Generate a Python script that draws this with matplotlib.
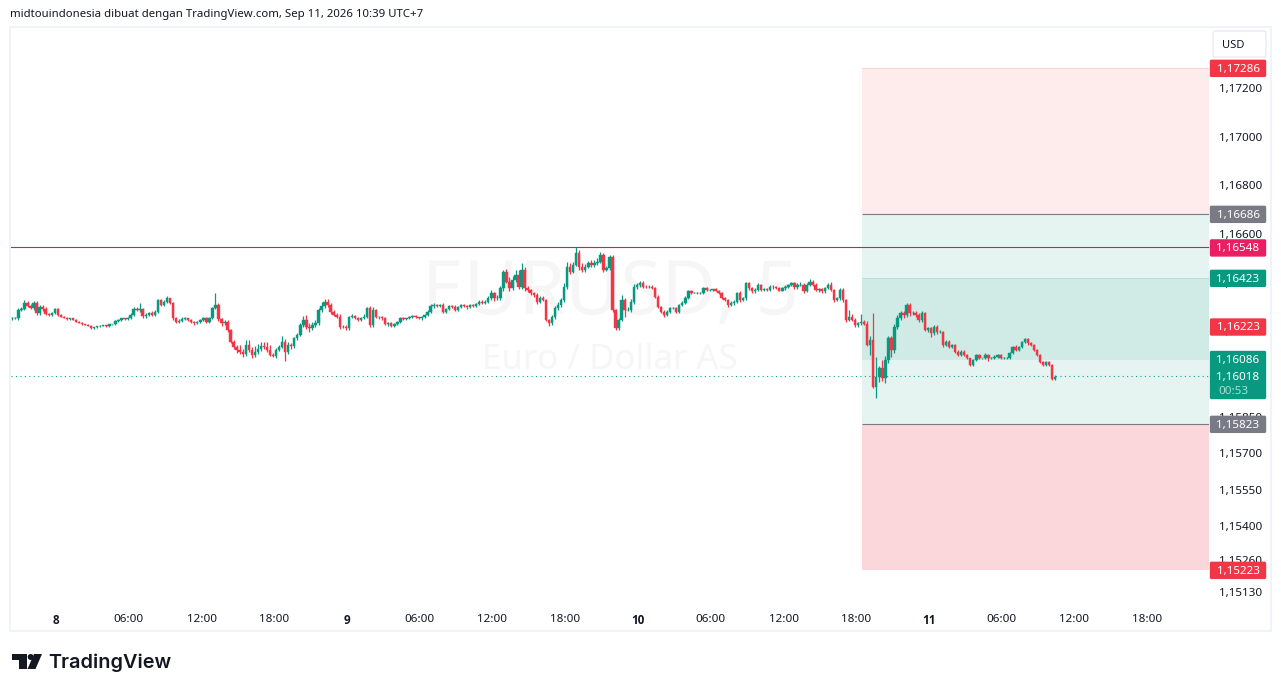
import numpy as np
import matplotlib
matplotlib.use("Agg")
import matplotlib.pyplot as plt
from matplotlib.patches import FancyBboxPatch, Polygon, Circle, Rectangle
from matplotlib.ticker import FuncFormatter
from matplotlib.transforms import ScaledTranslation

plt.rcParams['font.family'] = ['Noto Sans', 'DejaVu Sans']

GREEN = '#089981'
RED = '#F23645'

# prices are in 0.00001 above 1.16000, one bar = 15 minutes
closes_a = [
    257, 257, 291, 294, 321, 308, 298, 319, 277, 302,
    294, 275, 271, 280, 294, 271, 264, 260, 254, 256,
    250, 243, 239, 232, 231, 227, 216, 219, 225, 227,
    228, 225, 232, 232, 247, 250, 257, 253, 257, 271,
    294, 291, 294, 267, 271, 277, 271, 284, 330, 312,
    325, 339, 319, 257, 243, 247, 253, 257, 250, 243,
    236, 243, 250, 257, 243, 257, 298, 312, 253, 236,
    243, 209, 161, 138, 127, 120, 110, 147, 127, 106,
    120, 130, 141, 138, 127, 106, 102, 127, 138, 161,
    120, 147, 141, 175, 188, 230, 250, 223, 216, 230,
    236, 291, 308, 325, 312, 284, 271, 264, 223, 223,
    216, 261, 267, 257, 250, 257, 264, 298, 230, 291,
    261, 264, 257, 232, 236, 227, 232, 243, 257, 253,
    257, 261, 267, 261, 257, 261, 271, 284]
wick_up_a = [
    4, 6, 8, 8, 12, 6, 6, 8, 8, 8,
    10, 8, 3, 4, 4, 4, 3, 3, 3, 3,
    3, 2, 2, 2, 2, 2, 2, 2, 2, 2,
    2, 2, 3, 3, 3, 3, 3, 3, 5, 6,
    10, 8, 25, 6, 6, 6, 8, 6, 5, 5,
    5, 8, 3, 3, 4, 6, 8, 4, 3, 3,
    4, 4, 4, 5, 4, 6, 6, 48, 6, 6,
    5, 6, 5, 5, 10, 22, 12, 20, 22, 12,
    22, 20, 18, 18, 20, 20, 8, 8, 10, 22,
    10, 14, 8, 6, 8, 8, 18, 20, 16, 10,
    12, 8, 14, 12, 12, 8, 6, 6, 10, 8,
    6, 6, 6, 4, 4, 4, 10, 4, 8, 12,
    5, 4, 3, 4, 4, 4, 4, 4, 4, 4,
    3, 4, 3, 3, 3, 4, 5, 5]
wick_dn_a = [
    8, 4, 6, 4, 4, 6, 4, 6, 6, 6,
    8, 6, 4, 3, 4, 3, 3, 3, 3, 3,
    2, 2, 2, 2, 2, 2, 2, 2, 2, 2,
    2, 2, 3, 3, 3, 4, 3, 3, 4, 4,
    4, 6, 8, 10, 8, 6, 6, 4, 6, 6,
    6, 4, 4, 8, 6, 5, 4, 5, 6, 6,
    5, 4, 4, 5, 5, 4, 4, 4, 8, 10,
    5, 8, 5, 6, 12, 10, 14, 10, 10, 12,
    10, 8, 8, 8, 10, 5, 6, 8, 6, 5,
    37, 8, 10, 6, 6, 4, 8, 10, 14, 8,
    8, 8, 8, 10, 10, 8, 6, 8, 10, 8,
    6, 6, 5, 5, 5, 4, 5, 8, 8, 8,
    5, 6, 6, 4, 6, 4, 4, 4, 4, 4,
    3, 3, 4, 4, 3, 6, 3, 4]

closes_b = [
    308, 312, 308, 312, 284, 294, 308, 305, 291, 302,
    312, 308, 302, 312, 308, 316, 325, 319, 325, 339,
    360, 339, 339, 380, 449, 408, 380, 414, 435, 387,
    456, 380, 373, 360, 353, 325, 339, 332, 250, 236,
    264, 298, 312, 332, 387, 469, 449, 476, 524, 469,
    456, 469, 483, 476, 483, 490, 517, 456, 462, 510,
    291, 216, 250, 332, 291, 291, 325, 387, 394, 401,
    387, 384, 387, 380, 346, 305, 284, 271, 284, 298,
    298, 284, 312, 321, 339, 367, 362, 362, 360, 360,
    380, 373, 373, 376, 371, 360, 339, 332, 312, 319,
    325, 360, 332, 339, 401, 380, 367, 373, 394, 373,
    376, 373, 387, 384, 380, 371, 380, 387, 394, 401,
    384, 394, 394, 367, 394, 408, 394, 373, 376, 367,
    380, 394, 373, 332, 339, 373, 332, 250, 264, 250,
    230]
wick_up_b = [
    8, 6, 5, 4, 6, 4, 4, 4, 6, 4,
    4, 4, 5, 4, 5, 5, 5, 6, 6, 8,
    14, 6, 12, 10, 6, 10, 20, 18, 22, 22,
    30, 10, 10, 6, 6, 6, 10, 10, 6, 5,
    8, 10, 12, 10, 14, 20, 16, 14, 25, 12,
    14, 12, 8, 14, 12, 14, 14, 8, 10, 8,
    5, 6, 10, 20, 8, 12, 10, 12, 8, 8,
    10, 6, 5, 5, 6, 6, 4, 6, 6, 4,
    4, 4, 5, 8, 8, 5, 8, 3, 3, 3,
    4, 4, 6, 3, 4, 4, 4, 4, 4, 8,
    6, 6, 8, 6, 6, 6, 4, 8, 6, 4,
    4, 4, 6, 5, 4, 4, 4, 6, 4, 6,
    4, 8, 10, 6, 6, 12, 6, 6, 4, 4,
    6, 8, 10, 6, 6, 8, 8, 6, 28, 12,
    6]
wick_dn_b = [
    6, 8, 6, 5, 4, 4, 4, 6, 6, 5,
    4, 5, 5, 4, 4, 4, 6, 5, 4, 4,
    6, 10, 8, 8, 10, 8, 10, 8, 8, 8,
    8, 10, 8, 8, 8, 8, 6, 6, 6, 10,
    8, 10, 8, 10, 8, 10, 12, 8, 6, 12,
    8, 8, 6, 10, 10, 6, 6, 8, 6, 6,
    8, 7, 8, 5, 30, 6, 8, 8, 10, 10,
    6, 4, 4, 4, 5, 6, 5, 8, 4, 6,
    4, 5, 5, 4, 4, 4, 4, 3, 3, 3,
    3, 5, 3, 3, 4, 4, 4, 6, 8, 6,
    8, 4, 8, 4, 6, 8, 8, 6, 4, 4,
    4, 4, 5, 6, 4, 4, 4, 6, 4, 4,
    6, 5, 4, 8, 4, 6, 6, 6, 8, 8,
    8, 4, 6, 8, 6, 8, 8, 8, 6, 5,
    8]

closes_c = [
    236, 243, 235, 147, 167, -24, 17, 51, 10, 85, 174,
    126, 222, 257, 277, 270, 311, 277, 277, 270, 250,
    277, 209, 215, 195, 222, 202, 202, 147, 161, 140,
    147, 120, 106, 120, 106, 92, 65, 85, 106, 92,
    92, 106, 92, 92, 99, 106, 92, 92, 92, 113,
    140, 126, 140, 161, 170, 154, 147, 126, 106, 78,
    65, 78, 65, 9, 14]
wick_up_c = [
    6, 30, 6, 10, 15, 113, 82, 10, 35, 15, 8,
    12, 12, 14, 10, 8, 8, 8, 10, 8, 8,
    8, 4, 8, 6, 8, 6, 6, 4, 6, 6,
    5, 4, 6, 6, 5, 4, 3, 4, 3, 3,
    3, 8, 5, 4, 5, 5, 4, 4, 4, 4,
    4, 8, 4, 4, 6, 4, 4, 3, 3, 3,
    3, 3, 3, 4, 8]
wick_dn_c = [
    10, 6, 6, 6, 40, 6, 48, 20, 10, 20, 12,
    30, 10, 8, 8, 10, 8, 12, 8, 8, 8,
    8, 6, 8, 14, 6, 8, 5, 8, 6, 6,
    6, 4, 6, 4, 4, 4, 4, 6, 4, 4,
    3, 4, 10, 4, 4, 4, 4, 4, 4, 4,
    4, 4, 4, 4, 4, 6, 6, 4, 4, 4,
    4, 4, 6, 6, 4]

price_ticks = [1.172, 1.170, 1.168, 1.166, 1.164, 1.162, 1.160, 1.1585,
               1.157, 1.1555, 1.154, 1.1526, 1.1513]
time_ticks = [0, 6, 12, 18, 24, 30, 36, 42, 48, 54, 60, 66, 72, 78, 84, 90]
time_labels = ['8', '06:00', '12:00', '18:00', '9', '06:00', '12:00', '18:00',
               '10', '06:00', '12:00', '18:00', '11', '06:00', '12:00', '18:00']
day_labels = ['8', '9', '10', '11']

zone_top = 1.17286
zone_stop = 1.16686
zone_entry_hi = 1.16423
zone_entry_lo = 1.16086
zone_target = 1.15823
zone_bottom = 1.15223
level_line = 1.16548
last_price = 1.16018
mid_red = 1.16223


def comma(v, _=None):
    return f'{v:.5f}'.replace('.', ',')


closes = 1.16 + np.array(closes_a + closes_b + closes_c) / 1e5
up = np.array(wick_up_a + wick_up_b + wick_up_c) / 1e5
dn = np.array(wick_dn_a + wick_dn_b + wick_dn_c) / 1e5
opens = np.concatenate([[closes[0]], closes[:-1]])
highs = np.maximum(opens, closes) + up
lows = np.minimum(opens, closes) - dn
xs = -3.6 + np.arange(len(closes)) * 0.25
colors = [GREEN if c >= o else RED for o, c in zip(opens, closes)]

W, H = 1281, 692
fig = plt.figure(figsize=(W / 100, H / 100), dpi=100)
fig.patch.set_facecolor('white')

# pane runs 11..1209 px across, 27..603 px down
ax = fig.add_axes([11 / W, 1 - 603 / H, 1198 / W, 576 / H])
ax.set_xlim((11 - 56) / 12.125, (1209 - 56) / 12.125)
ax.set_ylim(1.16018 - 226.6 / 24333, 1.16018 + 349.4 / 24333)
for s in ax.spines.values():
    s.set_visible(False)

ax.yaxis.tick_right()
ax.set_yticks(price_ticks)
ax.yaxis.set_major_formatter(FuncFormatter(comma))
ax.tick_params(axis='y', length=0, pad=7, labelsize=8.4, labelcolor='#131722')
ax.set_xticks(time_ticks)
ax.set_xticklabels(time_labels)
ax.tick_params(axis='x', length=0, pad=8, labelsize=8.4, labelcolor='#131722')
for lab in ax.get_xticklabels():
    if lab.get_text() in day_labels:
        lab.set_family(['Open Sans', 'DejaVu Sans'])
        lab.set_fontweight('bold')
# price labels sit a little higher in the reference
nudge = ScaledTranslation(0, 0.7 / 100, fig.dpi_scale_trans)
for tick in ax.yaxis.get_major_ticks():
    tick.label2.set_transform(tick.label2.get_transform() + nudge)

# watermark
xmid = (610 - 56) / 12.125
ax.text(xmid, 1.16018 + (376.4 - 295) / 24333, 'EURUSD, 5', fontsize=54, color='#F6F6F7',
        ha='center', va='center', zorder=0)
ax.text(xmid, 1.16018 + (376.4 - 360) / 24333, 'Euro / Dollar AS', fontsize=25, color='#F6F6F7',
        ha='center', va='center', zorder=0)

# risk / reward zones
zx0 = (862 - 56) / 12.125
zx1 = (1209 - 56) / 12.125
ax.fill_between([zx0, zx1], zone_stop, zone_top, color='#FEECEC', lw=0, zorder=1)
ax.fill_between([zx0, zx1], zone_target, zone_stop, color='#E5F4F1', lw=0, zorder=1)
ax.fill_between([zx0, zx1], zone_entry_lo, zone_entry_hi, color='#D0EBE5', lw=0, zorder=1.1)
ax.fill_between([zx0, zx1], zone_bottom, zone_target, color='#FBD7DB', lw=0, zorder=1)
ax.hlines(zone_stop, zx0, zx1, color='#787B86', lw=0.8, zorder=1.2)
ax.hlines(zone_target, zx0, zx1, color='#787B86', lw=0.8, zorder=1.2)
ax.hlines(zone_top, zx0, zx1, color='#F4D5D5', lw=0.7, zorder=1.2)
ax.hlines(zone_entry_hi, zx0, zx1, color='#B5E0D7', lw=0.7, zorder=1.2)

ax.axhline(level_line, color='#D81B50', lw=0.8, zorder=1.5)
ax.axhline(last_price, color='#00A892', lw=0.8, ls=(0, (1, 3)), zorder=1.5)

# candles
ax.vlines(xs, lows, highs, colors=colors, lw=0.9, zorder=3)
ax.bar(xs, np.abs(closes - opens), bottom=np.minimum(opens, closes), width=0.2,
       color=colors, edgecolor=colors, lw=0.3, zorder=3)

# overlay in pixel coordinates for badges, frame and footer
ov = fig.add_axes([0, 0, 1, 1], facecolor='none')
ov.set_xlim(0, W)
ov.set_ylim(H, 0)
ov.axis('off')
fig.canvas.draw()


def py(v):
    return H - ax.transData.transform((0, v))[1]


def badge(v, color):
    y = py(v) + 0.5
    ov.add_patch(FancyBboxPatch((1210.5, y - 8), 55, 16, boxstyle='round,pad=0,rounding_size=1',
                                fc=color, ec=color, lw=1, mutation_aspect=1))
    ov.text(1238, y + 0.7, comma(v), color='white', fontsize=8.4, ha='center', va='center')


badge(zone_top, '#F23645')
badge(zone_stop, '#787B86')
badge(level_line, '#E91E63')
badge(zone_entry_hi, '#089981')
badge(mid_red, '#F23645')
badge(zone_target, '#787B86')
badge(zone_bottom, '#F23645')

ov.add_patch(FancyBboxPatch((1210.5, 351.5), 55, 47, boxstyle='round,pad=0,rounding_size=1',
                            fc='#089981', ec='#089981', lw=1))
ov.text(1238, py(zone_entry_lo) + 0.7, comma(zone_entry_lo), color='white', fontsize=8.4, ha='center', va='center')
ov.text(1238, py(last_price) + 0.7, comma(last_price), color='white', fontsize=8.4, ha='center', va='center')
ov.text(1218, 391, '00:53', color='#A8DDD2', fontsize=8.4, ha='left', va='center')

# frame and currency button
ov.add_patch(Rectangle((10, 27), 1261, 604, fc='none', ec='#F0F3FA', lw=1.4))
ov.add_patch(FancyBboxPatch((1213, 31), 53, 26, boxstyle='round,pad=0,rounding_size=2',
                            fc='white', ec='#E0E3EB', lw=0.7))
ov.text(1233, 45.5, 'USD', color='#131722', fontsize=8, ha='center', va='center')

ov.text(10, 14.5, 'midtouindonesia dibuat dengan TradingView.com, Sep 11, 2026 10:39 UTC+7',
        color='#131722', fontsize=8.2, ha='left', va='center')

# logo
ov.add_patch(Polygon([(12, 654), (27, 654), (27, 669), (19, 669), (19, 660), (12, 660)], fc='#131722', ec='none'))
ov.add_patch(Circle((30.7, 657), 3, fc='#131722', ec='none'))
ov.add_patch(Polygon([(34, 654), (42, 654), (35.5, 669), (27.5, 669)], fc='#131722', ec='none'))
ov.text(48, 662.5, 'TradingView', color='#131722', fontsize=14.3, fontweight='semibold',
        family=['Inter', 'DejaVu Sans'], ha='left', va='center')

fig.savefig('out.png', dpi=100)
